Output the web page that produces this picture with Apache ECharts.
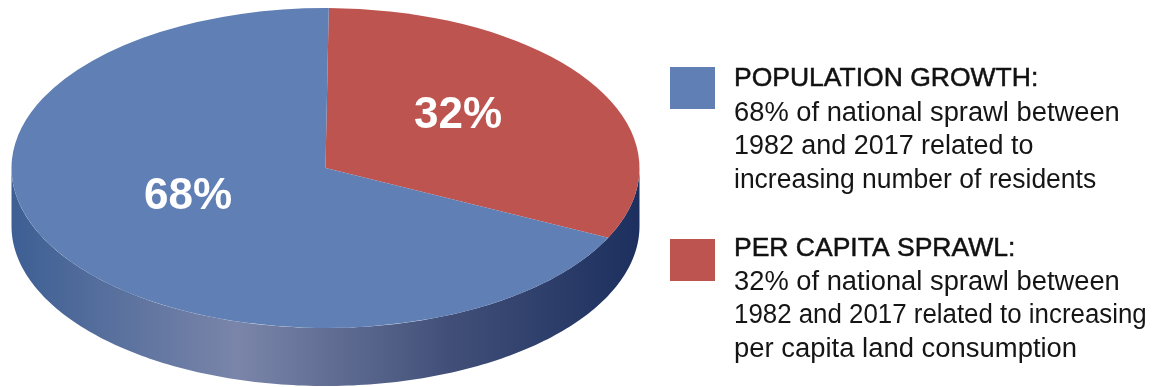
<!DOCTYPE html>
<html>
<head>
<meta charset="utf-8">
<style>html,body{margin:0;padding:0;background:#fff}#c{width:1156px;height:387px}</style>
<script src="https://cdn.jsdelivr.net/npm/echarts@6/dist/echarts.min.js"></script>
</head>
<body>
<div id="c"></div>
<script>
const categories = ['PER CAPITA SPRAWL', 'POPULATION GROWTH'];
const shares = [32, 68];
const legendOrder = [1, 0];
const descriptions = [
  ['32% of national sprawl between', '1982 and 2017 related to increasing', 'per capita land consumption'],
  ['68% of national sprawl between', '1982 and 2017 related to', 'increasing number of residents']
];
const sliceColors = ['#bd5450', '#5f7fb5'];

// layout (not data)
const cx = 325.5, cy = 168, rx = 314, ry = 160, depth = 58;
const startTilt = 0.6 * Math.PI / 180;
const labelXY = [[458, 116], [188, 197]];
const legendRows = [
  {boxTop: 67, baselines: [88, 123, 156, 190]},
  {boxTop: 239, baselines: [258, 292, 325, 359]}
];
// horizontal squeeze applied to each description line, by category
const lineFit = [[1.012, 0.958, 1.016], [1.012, 0.997, 0.981]];
const FONT = '"Liberation Sans", Arial, sans-serif';
const TEXT_X = 734;

const chart = echarts.init(document.getElementById('c'), null, {renderer: 'canvas'});
const total = shares.reduce((a, b) => a + b, 0);

function sideRim() {
  const pts = [];
  const N = 180;
  for (let i = 0; i <= N; i++) {
    const a = Math.PI * i / N;
    pts.push([cx + rx * Math.cos(a), cy + depth + ry * Math.sin(a)]);
  }
  for (let i = N; i >= 0; i--) {
    const a = Math.PI * i / N;
    pts.push([cx + rx * Math.cos(a), cy + ry * Math.sin(a)]);
  }
  return pts;
}

const graphicEls = [];
legendOrder.forEach((k, row) => {
  const r = legendRows[row];
  graphicEls.push({
    type: 'rect', x: 670, y: r.boxTop,
    shape: {x: 0, y: 0, width: 45, height: 42}, style: {fill: sliceColors[k]}
  });
  graphicEls.push({
    type: 'text', x: TEXT_X, y: r.baselines[0] - 9,
    style: {
      text: categories[k] + ':', font: '26.5px ' + FONT, fill: '#111',
      stroke: '#111', lineWidth: 0.5, verticalAlign: 'middle'
    }
  });
  descriptions[k].forEach((line, j) => {
    graphicEls.push({
      type: 'text', x: TEXT_X, y: r.baselines[j + 1] - 9,
      scaleX: lineFit[k][j],
      style: {text: line, font: '27px ' + FONT, fill: '#151515', verticalAlign: 'middle'}
    });
  });
});

chart.setOption({
  animation: false,
  backgroundColor: '#fff',
  graphic: {elements: graphicEls},
  series: [{
    type: 'custom',
    coordinateSystem: 'none',
    silent: true,
    z: 1,
    data: [0],
    renderItem: function () {
      return {
        type: 'polygon',
        shape: {points: sideRim()},
        style: {
          fill: new echarts.graphic.LinearGradient(0, 0, 1, 0, [
            {offset: 0, color: '#3d5f94'},
            {offset: 0.36, color: '#7a85a9'},
            {offset: 0.7, color: '#414f78'},
            {offset: 1, color: '#1c2f5e'}
          ])
        }
      };
    }
  }, {
    type: 'custom',
    coordinateSystem: 'none',
    silent: true,
    z: 2,
    data: shares,
    renderItem: function (params, api) {
      const i = params.dataIndex;
      const before = shares.slice(0, i).reduce((a, b) => a + b, 0);
      const start = -Math.PI / 2 + startTilt + 2 * Math.PI * before / total;
      const end = start + 2 * Math.PI * api.value(0) / total;
      return {
        type: 'group',
        children: [{
          type: 'sector',
          x: cx, y: cy, scaleY: ry / rx,
          shape: {cx: 0, cy: 0, r: rx, r0: 0, startAngle: start, endAngle: end, clockwise: true},
          style: {fill: sliceColors[i]}
        }, {
          type: 'text',
          x: labelXY[i][0], y: labelXY[i][1],
          z2: 10,
          style: {
            text: api.value(0) + '%',
            font: 'bold 44px ' + FONT,
            fill: '#fff',
            align: 'center',
            verticalAlign: 'middle'
          }
        }]
      };
    }
  }]
});
</script>
</body>
</html>
